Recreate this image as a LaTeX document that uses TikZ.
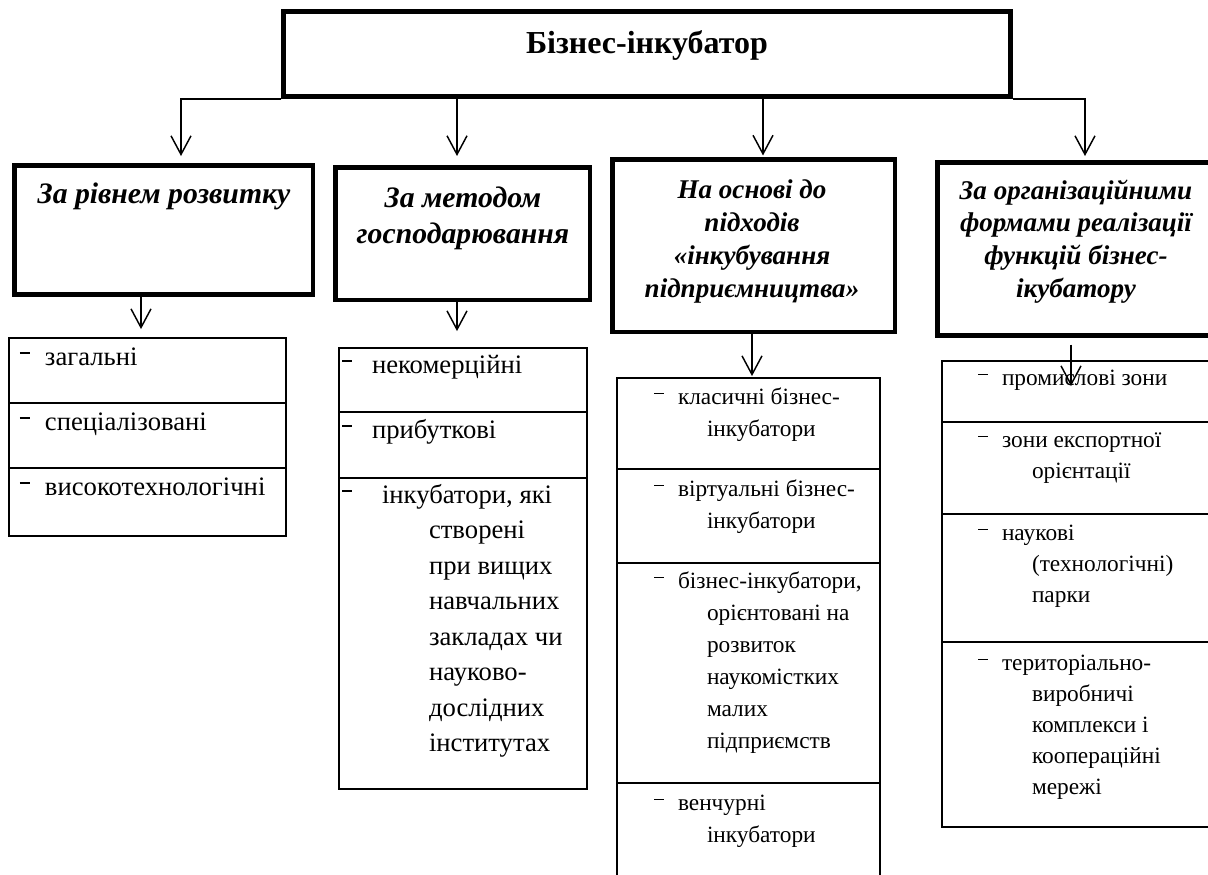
\documentclass[tikz,border=0pt]{standalone}
\usepackage{fontspec}
\setmainfont{Liberation Serif}
\usetikzlibrary{arrows.meta,calc}
\newcommand{\dsh}{\rule[0.42em]{7.5pt}{1.15pt}}
\newcommand{\catf}[2]{\fontsize{#1}{#2}\selectfont\bfseries\itshape}
\newcommand{\lf}[2]{\fontsize{#1}{#2}\selectfont}
\newcommand{\mkcell}[5]{\node[cell, minimum width={(#4-#2)*0.75pt}, minimum height={(#5-#3)*0.75pt}] (#1) at ({(#2+#4)/2},{(#3+#5)/2}) {};}
\tikzset{
  rootbox/.style={draw, line width=3.75pt, inner sep=0pt},
  catbox/.style={draw, line width=3.4pt, inner sep=0pt},
  cell/.style={draw, line width=1.4pt, inner sep=0pt},
  txt/.style={inner sep=0pt, outer sep=0pt},
  arr/.style={line width=1.1pt, -{Straight Barb[length=14pt,width=15pt]}},
}
\begin{document}
\begin{tikzpicture}[x=0.75pt,y=-0.75pt]
\useasboundingbox (0,0) rectangle (1208,875);
\clip (0,0) rectangle (1208,875);

% root
\node[rootbox, minimum width=545.25pt, minimum height=63.75pt] (root) at (647,54) {};
\node[txt, anchor=base, font=\fontsize{24}{28}\selectfont\bfseries] (roottxt) at (647,53) {Бізнес-інкубатор};

% categories
\node[catbox, minimum width=223.9pt, minimum height=97.1pt] (cat1) at (163.5,230) {};
\node[catbox, minimum width=190.9pt, minimum height=99.4pt] (cat2) at (462.5,233.5) {};
\node[catbox, minimum width=211.9pt, minimum height=129.4pt] (cat3) at (753.5,245.5) {};
\node[catbox, minimum width=207.4pt, minimum height=130.1pt] (cat4) at (1075.5,249) {};

\node[txt, anchor=base, font={\catf{22.3}{27}}] (c1t) at (164,203) {\begin{tabular}[t]{@{}c@{}}За рівнем розвитку\end{tabular}};
\node[txt, anchor=base, font={\catf{22.3}{27}}] (c2t) at (463,207) {\begin{tabular}[t]{@{}c@{}}За методом\\господарювання\end{tabular}};
\node[txt, anchor=base, font={\catf{20.3}{24.75}}] (c3t) at (752,198) {\begin{tabular}[t]{@{}c@{}}На основі до\\підходів\\«інкубування\\підприємництва»\end{tabular}};
\node[txt, anchor=base, font={\catf{20.3}{24.5}}] (c4t) at (1076,199) {\begin{tabular}[t]{@{}c@{}}За організаційними\\формами реалізації\\функцій бізнес-\\ікубатору\end{tabular}};

% list cells
\mkcell{l11}{9}{338}{286}{403}
\mkcell{l12}{9}{403}{286}{468}
\mkcell{l13}{9}{468}{286}{536}
\mkcell{l21}{339}{348}{587}{412}
\mkcell{l22}{339}{412}{587}{478}
\mkcell{l23}{339}{478}{587}{789}
\mkcell{l31}{617}{378}{880}{469}
\mkcell{l32}{617}{469}{880}{563}
\mkcell{l33}{617}{563}{880}{783}
\mkcell{l34}{617}{783}{880}{900}
\mkcell{l41}{942}{361}{1222}{422}
\mkcell{l42}{942}{422}{1222}{514}
\mkcell{l43}{942}{514}{1222}{642}
\mkcell{l44}{942}{642}{1222}{827}

% list texts
\node[txt, anchor=base west, font={\lf{20}{24}}] (t11) at (20,365) {\dsh\hspace{11.25pt}загальні};
\node[txt, anchor=base west, font={\lf{20}{24}}] (t12) at (20,430) {\dsh\hspace{11.25pt}спеціалізовані};
\node[txt, anchor=base west, font={\lf{20}{24}}] (t13) at (20,495) {\dsh\hspace{11.25pt}високотехнологічні};

\node[txt, anchor=base west, font={\lf{20}{24}}] (t21) at (342,373) {\dsh\hspace{15pt}некомерційні};
\node[txt, anchor=base west, font={\lf{20}{24}}] (t22) at (342,438) {\dsh\hspace{15pt}прибуткові};
\node[txt, anchor=base west, font={\lf{20}{26.625}}] (t23) at (342,503) {\begin{tabular}[t]{@{}l@{}}\dsh\hspace{22.5pt}інкубатори, які\\\hspace{65.25pt}створені\\\hspace{65.25pt}при вищих\\\hspace{65.25pt}навчальних\\\hspace{65.25pt}закладах чи\\\hspace{65.25pt}науково-\\\hspace{65.25pt}дослідних\\\hspace{65.25pt}інститутах\end{tabular}};

\node[txt, anchor=base west, font={\lf{17.5}{24}}] (t31) at (654,404) {\begin{tabular}[t]{@{}l@{}}\dsh\hspace{10.5pt}класичні бізнес-\\\hspace{39.75pt}інкубатори\end{tabular}};
\node[txt, anchor=base west, font={\lf{17.5}{24}}] (t32) at (654,496) {\begin{tabular}[t]{@{}l@{}}\dsh\hspace{10.5pt}віртуальні бізнес-\\\hspace{39.75pt}інкубатори\end{tabular}};
\node[txt, anchor=base west, font={\lf{17.5}{24}}] (t33) at (654,588) {\begin{tabular}[t]{@{}l@{}}\dsh\hspace{10.5pt}бізнес-інкубатори,\\\hspace{39.75pt}орієнтовані на\\\hspace{39.75pt}розвиток\\\hspace{39.75pt}наукомістких\\\hspace{39.75pt}малих\\\hspace{39.75pt}підприємств\end{tabular}};
\node[txt, anchor=base west, font={\lf{17.5}{24}}] (t34) at (654,810) {\begin{tabular}[t]{@{}l@{}}\dsh\hspace{10.5pt}венчурні\\\hspace{39.75pt}інкубатори\end{tabular}};

\node[txt, anchor=base west, font={\lf{17.5}{23.25}}] (t41) at (978,385) {\dsh\hspace{10.5pt}промислові зони};
\node[txt, anchor=base west, font={\lf{17.5}{23.25}}] (t42) at (978,447) {\begin{tabular}[t]{@{}l@{}}\dsh\hspace{10.5pt}зони експортної\\\hspace{40.5pt}орієнтації\end{tabular}};
\node[txt, anchor=base west, font={\lf{17.5}{23.25}}] (t43) at (978,540) {\begin{tabular}[t]{@{}l@{}}\dsh\hspace{10.5pt}наукові\\\hspace{40.5pt}(технологічні)\\\hspace{40.5pt}парки\end{tabular}};
\node[txt, anchor=base west, font={\lf{17.5}{23.25}}] (t44) at (978,670) {\begin{tabular}[t]{@{}l@{}}\dsh\hspace{10.5pt}територіально-\\\hspace{40.5pt}виробничі\\\hspace{40.5pt}комплекси і\\\hspace{40.5pt}кооперацiйні\\\hspace{40.5pt}мережі\end{tabular}};

% connectors root -> categories
\coordinate (e1) at ($(cat1.north)+(17.5,-7)$);
\coordinate (e2) at ($(cat2.north)+(-5.5,-9)$);
\coordinate (e3) at ($(cat3.north)+(9.5,-1.5)$);
\coordinate (e4) at ($(cat4.north)+(9.5,-4)$);
\draw[arr] (root.south west) -| (e1);
\draw[arr] (e2 |- root.south) -- (e2);
\draw[arr] (e3 |- root.south) -- (e3);
\draw[arr] (root.south east) -| (e4);

% connectors categories -> lists
\coordinate (f1) at ($(l11.north)+(-6.5,-8)$);
\coordinate (f2) at ($(l21.north)+(-6,-16)$);
\coordinate (f3) at ($(l31.north)+(3.5,-1)$);
\coordinate (f4) at ($(l41.north)+(-11,26)$);
\draw[arr] (f1 |- cat1.south) -- (f1);
\draw[arr] (f2 |- cat2.south) -- (f2);
\draw[arr] (f3 |- cat3.south) -- (f3);
\draw[arr, shorten <=5pt] (f4 |- cat4.south) -- (f4);
\end{tikzpicture}
\end{document}
